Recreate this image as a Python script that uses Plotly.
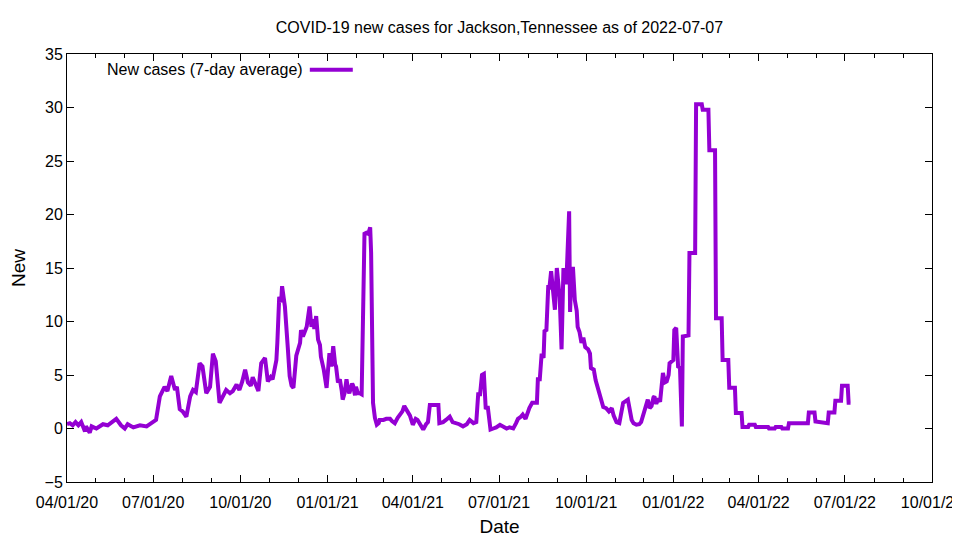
"""COVID-19 new cases (7-day average) for Jackson, Tennessee."""

import pandas as pd
import plotly.graph_objects as go

START = "2020-04-01"

# day offsets from START
days = [
    0, 3, 6, 9, 12, 15, 19, 20, 24, 26, 31, 38, 43, 47, 52, 57, 61, 64, 70, 77,
    84, 89, 94, 98, 103, 106, 110, 114, 116, 119, 122, 126, 130, 133, 136, 140,
    143, 147, 151, 154, 157, 161, 164, 168, 172, 175, 179, 182, 185, 188, 191,
    194, 196, 199, 202, 205, 209, 212, 215, 217, 221, 222, 224, 226, 227, 230,
    232, 233, 235, 237, 239, 240, 242, 246, 247, 249, 251, 253, 256, 258, 260,
    261, 263, 265, 267, 268, 271, 274, 276, 277, 279, 281, 283, 284, 286, 288,
    290, 291, 293, 295, 297, 298, 301, 302, 304, 305, 307, 309, 311, 312, 314,
    316, 318, 320, 321, 323, 325, 327, 329, 330, 334, 337, 341, 343, 346, 349,
    351, 354, 356, 359, 362, 365, 368, 370, 373, 376, 379, 381, 383, 389, 392,
    393, 397, 400, 404, 407, 411, 414, 418, 422, 425, 429, 432, 434, 436, 438,
    440, 441, 442, 444, 447, 450, 453, 457, 460, 464, 467, 471, 474, 476, 479,
    481, 484, 486, 488, 491, 494, 496, 497, 499, 501, 503, 504, 506, 508, 509,
    511, 513, 515, 517, 520, 522, 524, 527, 530, 531, 532, 534, 536, 538, 539,
    541, 543, 545, 547, 550, 552, 553, 556, 558, 561, 564, 566, 569, 572, 575,
    577, 580, 583, 587, 589, 592, 596, 598, 601, 604, 606, 610, 613, 615, 617,
    619, 620, 622, 624, 626, 627, 629, 631, 633, 635, 636, 640, 641, 643, 645,
    647, 649, 650, 656, 657, 663, 664, 670, 671, 677, 678, 684, 685, 691, 692,
    698, 699, 705, 706, 712, 713, 719, 720, 726, 727, 740, 741, 747, 748, 754,
    755, 761, 762, 782, 783, 789, 790, 796, 803, 804, 810, 811, 817, 818, 824,
    825, 827,
]

new_cases = [
    0.4, 0.5, 0.3, 0.6, 0.3, 0.6, -0.27, 0.2, -0.4, 0.2, 0.0, 0.4, 0.3, 0.6,
    0.9, 0.3, 0.0, 0.4, 0.1, 0.3, 0.2, 0.5, 0.8, 3.0, 3.9, 3.5, 4.9, 3.6, 3.9,
    1.8, 1.6, 1.1, 3.0, 3.6, 3.4, 6.1, 5.8, 3.3, 3.9, 7.0, 6.3, 2.4, 3.0, 3.6,
    3.3, 3.5, 4.1, 3.6, 4.4, 5.5, 4.3, 4.0, 4.8, 4.2, 3.5, 6.1, 6.6, 4.4, 4.8,
    4.6, 6.4, 8.0, 12.3, 11.8, 13.3, 11.4, 7.7, 7.6, 4.9, 4.0, 3.8, 5.0, 6.8,
    8.0, 9.2, 8.6, 9.1, 9.5, 11.4, 9.5, 10.2, 9.3, 10.5, 8.3, 7.8, 6.7, 5.5,
    3.8, 6.0, 7.05, 5.8, 7.7, 6.0, 5.8, 4.3, 4.6, 3.5, 2.7, 3.3, 4.6, 3.5, 3.3,
    4.2, 4.0, 3.1, 3.9, 3.3, 3.3, 3.2, 9.0, 18.2, 18.3, 18.2, 18.8, 16.4, 2.4,
    1.0, 0.35, 0.5, 0.8, 0.8, 0.9, 0.9, 0.7, 0.5, 1.0, 1.3, 1.6, 2.1, 1.7, 1.2,
    0.35, 0.9, 0.8, 0.3, -0.1, 0.4, 0.6, 2.2, 2.2, 2.2, 0.5, 0.6, 0.8, 1.1,
    0.6, 0.5, 0.4, 0.2, 0.4, 0.8, 0.5, 0.6, 3.2, 3.2, 5.0, 5.1, 3.0, 1.8, 2.1,
    -0.1, 0.0, 0.1, 0.35, 0.2, 0.0, 0.1, 0.0, 0.5, 0.9, 1.1, 1.3, 0.9, 1.5,
    1.9, 2.4, 2.4, 2.4, 4.6, 4.6, 7.0, 6.6, 9.1, 9.2, 13.4, 13.0, 14.7, 13.0,
    11.1, 15.0, 12.3, 7.4, 15.0, 13.5, 20.3, 10.9, 13.5, 15.1, 12.0, 11.0, 9.5,
    9.0, 8.0, 8.5, 7.6, 7.4, 7.0, 5.65, 5.5, 4.5, 3.6, 2.5, 2.0, 1.9, 1.6, 1.9,
    1.2, 0.6, 0.5, 2.4, 2.5, 2.7, 0.8, 0.5, 0.35, 0.4, 0.6, 1.9, 2.7, 1.9, 2.1,
    2.9, 3.0, 2.3, 2.8, 2.5, 3.6, 5.2, 4.3, 4.4, 5.0, 6.1, 6.4, 9.2, 9.4, 5.8,
    5.7, 0.2, 8.6, 8.7, 16.4, 16.4, 30.3, 30.3, 29.8, 29.8, 26.0, 26.0, 10.3,
    10.3, 6.4, 6.4, 3.8, 3.8, 1.45, 1.45, 0.15, 0.15, 0.35, 0.35, 0.15, 0.15,
    0.0, 0.0, 0.15, 0.15, 0.0, 0.0, 0.5, 0.5, 1.5, 1.5, 0.65, 0.55, 0.5, 1.5,
    1.5, 2.6, 2.6, 4.0, 4.0, 2.4, 2.4,
]

series_name = "New cases (7-day average)"
title_text = "COVID-19 new cases for Jackson,Tennessee as of 2022-07-07"

dates = pd.Timestamp(START) + pd.to_timedelta(days, unit="D")

LINE_COLOR = "#9400D3"
FONT = "Liberation Sans, Arial, sans-serif"
FONT_SIZE = 16

# the page body keeps its default 8px margin, so the figure is 8px smaller
# on each side to fill the 960x540 window exactly
FIG_W, FIG_H = 952, 532

fig = go.Figure()
fig.add_trace(
    go.Scatter(
        x=dates,
        y=new_cases,
        mode="lines",
        line=dict(color=LINE_COLOR, width=4),
        name=series_name,
        showlegend=False,
    )
)

# gnuplot-style key: text on the left, line sample on the right
fig.add_annotation(
    text=series_name,
    xref="paper",
    yref="paper",
    x=0.2748,
    y=0.9633,
    xanchor="right",
    yanchor="middle",
    showarrow=False,
    font=dict(size=FONT_SIZE, color="black", family=FONT),
)
fig.add_shape(
    type="line",
    xref="paper",
    yref="paper",
    x0=0.2807,
    x1=0.3304,
    y0=0.9633,
    y1=0.9633,
    line=dict(color=LINE_COLOR, width=4),
)

fig.update_layout(
    width=FIG_W,
    height=FIG_H,
    paper_bgcolor="white",
    plot_bgcolor="white",
    font=dict(family=FONT, size=FONT_SIZE, color="black"),
    margin=dict(l=59, r=28, t=46, b=58),
    title=dict(
        text=title_text,
        x=0.5,
        xref="paper",
        xanchor="center",
        y=1 - 19 / FIG_H,
        yanchor="middle",
        font=dict(size=FONT_SIZE, family=FONT),
    ),
    showlegend=False,
)

fig.update_xaxes(
    range=["2020-04-01", "2022-10-01"],
    tick0="2020-04-01",
    dtick="M3",
    tickformat="%m/%d/%y",
    ticks="inside",
    ticklen=7,
    tickcolor="black",
    ticklabelstandoff=6,
    ticklabeloverflow="allow",
    showline=True,
    linecolor="black",
    linewidth=1,
    mirror="ticks",
    showgrid=False,
    zeroline=False,
    automargin=False,
    minor=dict(dtick="M1", ticks="inside", ticklen=4, tickcolor="black", showgrid=False),
    title=dict(text="Date", standoff=9),
)
fig.update_yaxes(
    range=[-5, 35],
    dtick=5,
    ticks="inside",
    ticklen=7,
    tickcolor="black",
    showline=True,
    linecolor="black",
    linewidth=1,
    mirror="ticks",
    showgrid=False,
    zeroline=False,
    automargin=False,
    title=dict(text="New", standoff=22),
)

fig.write_html("out.html")
